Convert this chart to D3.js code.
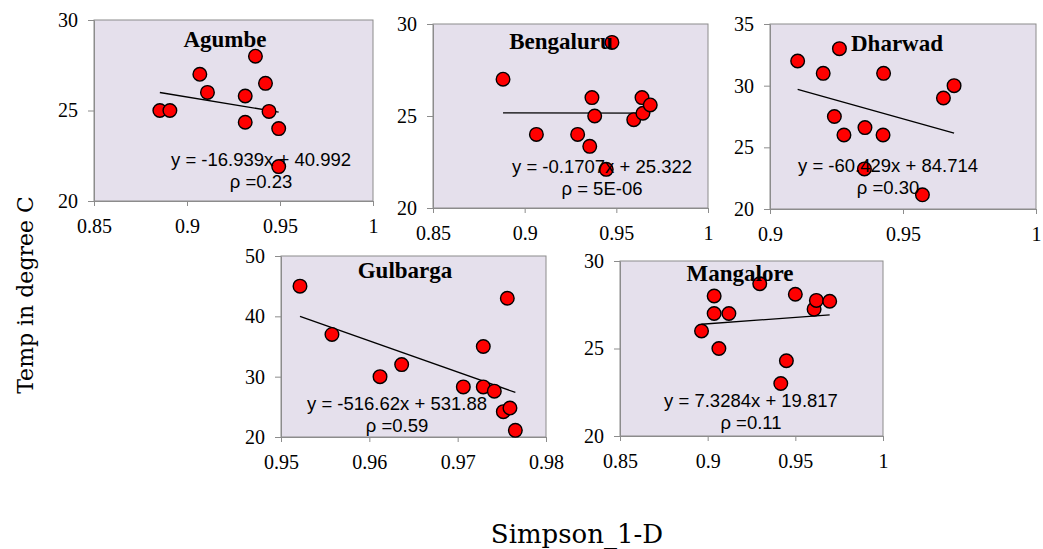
<!DOCTYPE html>
<html>
<head>
<meta charset="utf-8">
<script src="https://cdn.jsdelivr.net/npm/d3@7"></script>
<style>
  body { margin: 0; background: #fff; }
  svg { display: block; }
</style>
</head>
<body>
<svg id="chart" width="1043" height="549"></svg>
<script>
'use strict';

// station names
var stations = ['Agumbe', 'Bengaluru', 'Dharwad', 'Gulbarga', 'Mangalore'];

// Simpson_1-D (x) and temperature (y) per station
var agumbeX = [0.8854, 0.8908, 0.9069, 0.911, 0.9313, 0.9313, 0.9368, 0.9422, 0.9441, 0.9493, 0.9493];
var agumbeY = [25.0, 25.0, 27.0, 26.0, 25.8, 24.35, 28.0, 26.5, 24.95, 24.0, 21.9];

var bengaluruX = [0.8882, 0.9064, 0.9289, 0.9355, 0.9367, 0.9382, 0.9445, 0.9476, 0.9595, 0.964, 0.9645, 0.9685];
var bengaluruY = [27.0, 24.0, 24.0, 23.35, 26.0, 25.0, 22.1, 29.0, 24.8, 26.0, 25.15, 25.6];

var dharwadX = [0.9104, 0.92, 0.9261, 0.9242, 0.9278, 0.9357, 0.9355, 0.9427, 0.9425, 0.9573, 0.9652, 0.9692];
var dharwadY = [32.0, 31.0, 33.0, 27.5, 26.0, 26.6, 23.25, 31.0, 26.0, 21.15, 29.0, 30.0];

var gulbargaX = [0.95215, 0.95577, 0.96121, 0.96366, 0.97064, 0.9729, 0.9729, 0.97415, 0.97562, 0.97517, 0.97592, 0.97653];
var gulbargaY = [45.0, 37.0, 30.0, 32.0, 28.3, 35.0, 28.3, 27.6, 43.0, 24.2, 24.8, 21.1];

var mangaloreX = [0.8965, 0.9037, 0.9037, 0.9064, 0.9121, 0.9297, 0.95, 0.9449, 0.9417, 0.9607, 0.962, 0.9696];
var mangaloreY = [26.0, 28.0, 27.0, 25.0, 27.0, 28.7, 28.1, 24.3, 23.0, 27.25, 27.75, 27.7];

// trend lines as printed on the chart
var slopes = [-16.939, -0.1707, -60.429, -516.62, 7.3284];
var intercepts = [40.992, 25.322, 84.714, 531.88, 19.817];
var equations = ['y = -16.939x + 40.992', 'y = -0.1707x + 25.322', 'y = -60.429x + 84.714',
                 'y = -516.62x + 531.88', 'y = 7.3284x + 19.817'];
var rhoLabels = ['\u03c1 =0.23', '\u03c1 = 5E-06', '\u03c1 =0.30', '\u03c1 =0.59', '\u03c1 =0.11'];

// axis ticks
var xTicks = [[0.85, 0.9, 0.95, 1], [0.85, 0.9, 0.95, 1], [0.9, 0.95, 1],
              [0.95, 0.96, 0.97, 0.98], [0.85, 0.9, 0.95, 1]];
var yTicks = [[20, 25, 30], [20, 25, 30], [20, 25, 30, 35], [20, 30, 40, 50], [20, 25, 30]];

var xData = [agumbeX, bengaluruX, dharwadX, gulbargaX, mangaloreX];
var yData = [agumbeY, bengaluruY, dharwadY, gulbargaY, mangaloreY];

// plot boxes on the page
var boxes = [
    { left: 94, top: 20, width: 279, height: 181 },
    { left: 433, top: 24, width: 275, height: 184 },
    { left: 770, top: 24, width: 266, height: 185 },
    { left: 281, top: 256, width: 265, height: 181 },
    { left: 620, top: 261, width: 263, height: 175 }
];
// title and equation spots, relative to each box
var titlePos = [[131, 27], [128, 25], [127, 27], [124, 22], [120, 20]];
var eqPos = [[167, 146], [169, 149], [118, 148], [116, 154], [131, 146]];

var svg = d3.select('#chart');
var serif = '"Liberation Serif", "DejaVu Serif", serif';
var sans = '"Liberation Sans", Arial, sans-serif';

stations.forEach(function (name, i) {
    var box = boxes[i];
    var xt = xTicks[i];
    var yt = yTicks[i];

    var x = d3.scaleLinear()
        .domain([xt[0], xt[xt.length - 1]])
        .range([0, box.width]);
    var y = d3.scaleLinear()
        .domain([yt[0], yt[yt.length - 1]])
        .range([box.height, 0]);

    var g = svg.append('g')
        .attr('transform', 'translate(' + box.left + ',' + box.top + ')');

    g.append('rect')
        .attr('width', box.width)
        .attr('height', box.height)
        .attr('fill', '#e5e0ec')
        .attr('stroke', '#8c8c8c')
        .attr('stroke-width', 1);

    var xAxis = g.append('g')
        .attr('transform', 'translate(0,' + box.height + ')')
        .call(d3.axisBottom(x).tickValues(xt).tickFormat(String)
            .tickSize(5).tickSizeOuter(0).tickPadding(13));

    var yAxis = g.append('g')
        .call(d3.axisLeft(y).tickValues(yt).tickFormat(String)
            .tickSize(6).tickSizeOuter(0).tickPadding(10));

    [xAxis, yAxis].forEach(function (ax) {
        ax.select('.domain').attr('stroke', '#8c8c8c');
        ax.selectAll('.tick line').attr('stroke', '#8c8c8c');
        ax.selectAll('.tick text')
            .attr('fill', '#000')
            .style('font-family', serif)
            .style('font-size', '20px');
    });

    // trend line over the range of the data
    var xs = xData[i];
    var ext = d3.extent(xs);
    var line = d3.line()
        .x(function (d) { return x(d); })
        .y(function (d) { return y(slopes[i] * d + intercepts[i]); });

    g.append('path')
        .datum(ext)
        .attr('d', line)
        .attr('fill', 'none')
        .attr('stroke', '#000')
        .attr('stroke-width', 1.3);

    g.selectAll('circle')
        .data(xs)
        .enter()
        .append('circle')
        .attr('cx', function (d) { return x(d); })
        .attr('cy', function (d, j) { return y(yData[i][j]); })
        .attr('r', 6.8)
        .attr('fill', '#ff0000')
        .attr('stroke', '#000')
        .attr('stroke-width', 1.4);

    g.append('text')
        .attr('x', titlePos[i][0])
        .attr('y', titlePos[i][1])
        .attr('text-anchor', 'middle')
        .style('font-family', serif)
        .style('font-weight', 'bold')
        .style('font-size', '23px')
        .text(name);

    g.append('text')
        .attr('x', eqPos[i][0])
        .attr('y', eqPos[i][1])
        .attr('text-anchor', 'middle')
        .style('font-family', sans)
        .style('font-size', '18.5px')
        .text(equations[i]);

    g.append('text')
        .attr('x', eqPos[i][0])
        .attr('y', eqPos[i][1] + 22)
        .attr('text-anchor', 'middle')
        .style('font-family', sans)
        .style('font-size', '18.5px')
        .text(rhoLabels[i]);
});

// axis titles
svg.append('text')
    .attr('transform', 'translate(33,295) rotate(-90)')
    .attr('text-anchor', 'middle')
    .style('font-family', '"DejaVu Serif", serif')
    .style('font-size', '22px')
    .text('Temp in degree C');

svg.append('text')
    .attr('x', 577)
    .attr('y', 543)
    .attr('text-anchor', 'middle')
    .style('font-family', '"DejaVu Serif", serif')
    .style('font-size', '26px')
    .text('Simpson_1-D');
</script>
</body>
</html>
